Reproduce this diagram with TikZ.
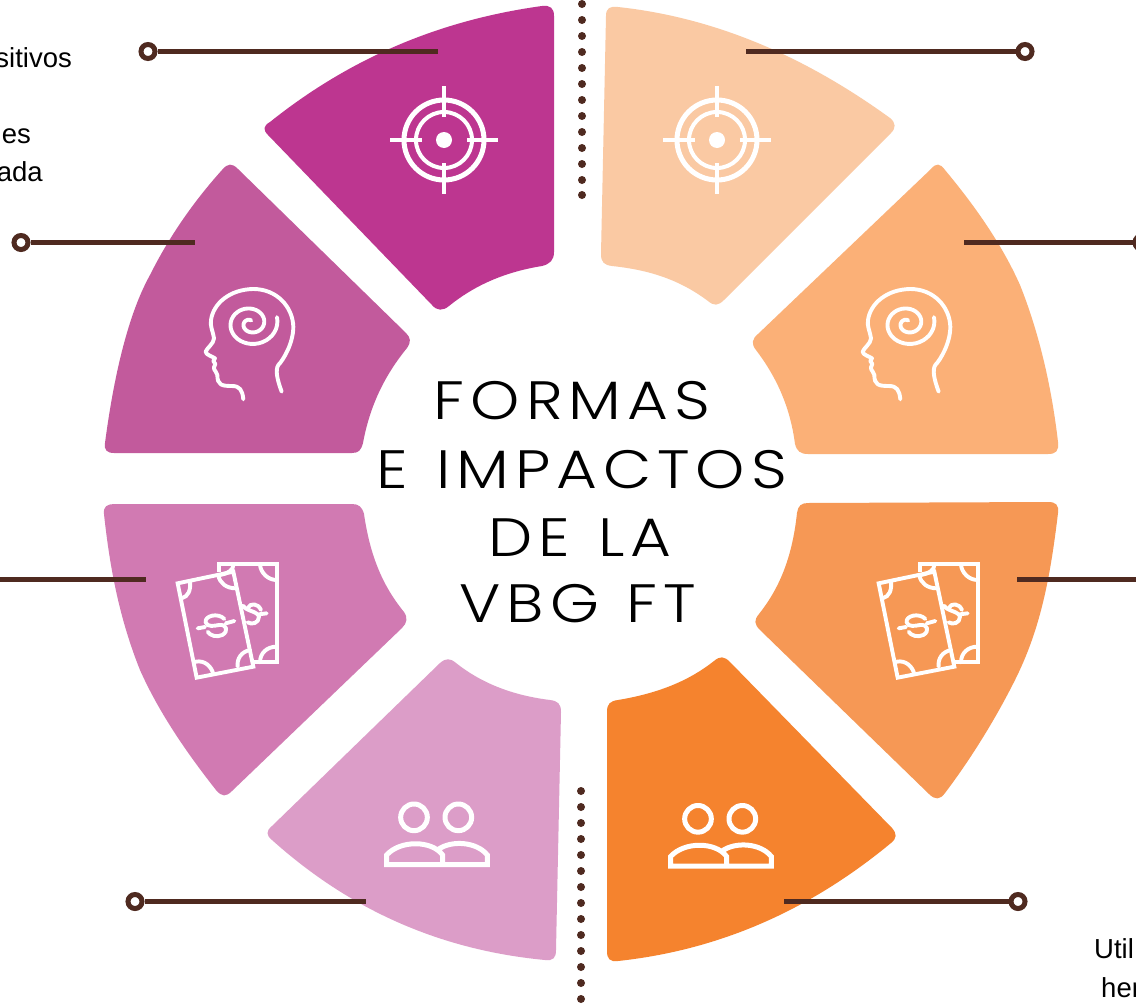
\documentclass[tikz,border=0pt]{standalone}
\usepackage{fontspec}
\setmainfont{Liberation Sans}
\newfontfamily\titlefont[LetterSpace=11,FakeStretch=1.16,WordSpace=1.2,UprightFont=* Light]{Poppins}
\definecolor{mA}{HTML}{BD3690}
\definecolor{mB}{HTML}{C25A9C}
\definecolor{mC}{HTML}{D17AB2}
\definecolor{mD}{HTML}{DC9DC8}
\definecolor{oA}{HTML}{FAC9A3}
\definecolor{oB}{HTML}{FBB077}
\definecolor{oC}{HTML}{F69855}
\definecolor{oD}{HTML}{F5832E}
\definecolor{brown}{HTML}{4F2A20}
\tikzset{
  petal/.style={fill=#1,draw=none},
  icon/.style={draw=white,line width=3.9pt,line cap=round,line join=round},
  iconrect/.style={draw=white,line width=3.9pt,line join=miter},
  lead/.style={draw=brown,line width=5pt},
  ring/.style={circle,draw=brown,fill=white,line width=5pt,minimum size=14pt,inner sep=0pt},
  beadmark/.style={circle,fill=brown,minimum size=8pt,inner sep=0pt},
  titletext/.style={font=\titlefont\fontsize{54}{60}\selectfont,inner sep=0pt,text=black},
  sidetext/.style={font=\fontsize{27.5}{30}\selectfont,inner sep=0pt,text=black,anchor=base east},
  sidetextw/.style={font=\fontsize{27.5}{30}\selectfont,inner sep=0pt,text=black,anchor=base west},
  pics/target/.style={code={
    \draw[icon,line cap=butt,line width=5pt] (0,0) circle (40);
    \draw[icon,line cap=butt,line width=4pt] (0,0) circle (28);
    \fill[white] (0,0) circle (8);
    \draw[icon,line cap=butt] (-54,0)--(-22,0) (23,0)--(54,0) (0,-54)--(0,-23) (0,23)--(0,54);
  }},
  pics/head/.style={code={
    \begin{scope}[x=0.3333pt,y=-0.3333pt]
    \draw[icon] (160,358) .. controls (157,330) and (150,318) .. (125,318) .. controls (95,318) and (82,315) .. (82,285) .. controls (82,275) and (70,272) .. (72,262) -- (76,252) -- (70,243) -- (75,235) .. controls (65,228) and (48,225) .. (47,215) .. controls (50,205) and (72,190) .. (72,175) .. controls (68,150) and (60,140) .. (63,120) .. controls (70,70) and (120,28) .. (190,27) .. controls (260,27) and (308,80) .. (310,140) .. controls (310,190) and (280,240) .. (265,255) .. controls (255,270) and (262,300) .. (275,335);
    \draw[icon] plot[domain=-15:640,samples=70,smooth] ({182+(80-.11*\x)*cos(\x)},{130+.88*(80-.11*\x)*sin(\x)});
    \end{scope}
  }},
  pics/money/.style={code={
    \begin{scope}[x=0.3333pt,y=-0.3333pt]
    \draw[iconrect] (162,52)--(162,28)--(335,28)--(335,322)--(262,322);
    \draw[iconrect] (38,85)--(205,50)--(265,335)--(95,368)--cycle;
    \draw[icon] (75,78) .. controls (78,105) and (70,125) .. (50,130);
    \draw[icon] (160,62) .. controls (165,85) and (185,100) .. (212,100);
    \draw[icon] (255,285) .. controls (230,290) and (215,310) .. (218,335);
    \draw[icon] (92,320) .. controls (120,315) and (140,335) .. (145,358);
    \draw[icon] (285,30) .. controls (288,55) and (310,75) .. (335,75);
    \draw[icon] (335,275) .. controls (305,275) and (285,295) .. (285,322);
    \draw[icon] (205,30) .. controls (205,45) and (190,55) .. (165,60);
    \draw[icon] (98,220)--(120,216) (182,205)--(208,198);
    \draw[icon] (178,192) .. controls (160,172) and (118,182) .. (122,202) .. controls (126,218) and (150,212) .. (162,210) .. controls (185,207) and (192,228) .. (172,240) .. controls (155,248) and (135,242) .. (128,230);
    \draw[icon] (282,178)--(305,175);
    \draw[icon] (288,165) .. controls (280,145) and (255,142) .. (248,160);
    \draw[icon] (235,152) .. controls (240,168) and (278,168) .. (282,185) .. controls (282,205) and (260,210) .. (248,202);
    \end{scope}
  }},
  pics/people/.style={code={
    \begin{scope}[x=0.3333pt,y=-0.3333pt]
    \draw[icon,line width=5pt] (132,82) circle (40) (265,82) circle (40);
    \draw[icon,line width=5pt,line cap=butt,line join=miter] (218,224)--(50,224)--(50,195) .. controls (90,150) and (185,150) .. (218,195)--(218,224)--(352,224)--(352,195) .. controls (320,155) and (245,150) .. (205,178);
    \end{scope}
  }}
}
\begin{document}
\begin{tikzpicture}[x=1pt,y=-1pt]
\clip (0,0) rectangle (1136,1004);
\fill[white] (0,0) rectangle (1136,1004);
% left petals
\fill[petal=mA] (554,16)--(554,252) .. controls (554,260) and (550,264) .. (542,266) .. controls (505,272) and (475,285) .. (449,306) .. controls (443,311) and (437,311) .. (432,305)--(268,135) .. controls (263,130) and (263,126) .. (270,122) .. controls (350,58) and (440,20) .. (542,6) .. controls (550,5) and (554,8) .. (554,16)--cycle;
\fill[petal=mB] (222,170) .. controls (228,163) and (232,163) .. (238,169)--(406,333) .. controls (411,338) and (411,342) .. (407,348) .. controls (385,375) and (370,405) .. (363,443) .. controls (361,450) and (359,453) .. (352,453)--(114,453) .. controls (107,453) and (104,450) .. (105,443) .. controls (112,390) and (125,320) .. (150,275) .. controls (170,235) and (195,200) .. (222,170)--cycle;
\fill[petal=mC] (114,504)--(352,504) .. controls (359,504) and (362,507) .. (364,514) .. controls (370,555) and (382,585) .. (404,612) .. controls (408,618) and (407,623) .. (402,628)--(232,791) .. controls (226,797) and (222,797) .. (216,790) .. controls (190,757) and (160,715) .. (140,670) .. controls (120,620) and (110,570) .. (104,514) .. controls (103,507) and (107,504) .. (114,504)--cycle;
\fill[petal=mD] (440,663) .. controls (446,658) and (450,658) .. (456,663) .. controls (480,682) and (510,695) .. (550,700) .. controls (558,701) and (561,704) .. (561,712)--(556,950) .. controls (556,958) and (553,961) .. (545,960) .. controls (440,950) and (350,910) .. (272,840) .. controls (266,835) and (266,831) .. (272,826)--cycle;
% right petals
\fill[petal=oA] (606,16) .. controls (606,8) and (610,6) .. (618,7) .. controls (720,18) and (810,60) .. (890,118) .. controls (896,123) and (896,128) .. (891,133)--(724,300) .. controls (718,306) and (714,306) .. (708,301) .. controls (680,280) and (650,270) .. (612,266) .. controls (604,265) and (601,262) .. (601,254)--cycle;
\fill[petal=oB] (931,169) .. controls (936,163) and (940,163) .. (945,170) .. controls (970,200) and (1000,240) .. (1020,285) .. controls (1040,335) and (1052,390) .. (1058,442) .. controls (1059,451) and (1056,454) .. (1048,454)--(808,454) .. controls (800,454) and (797,451) .. (795,444) .. controls (790,405) and (775,375) .. (756,350) .. controls (751,344) and (752,339) .. (758,334)--cycle;
\fill[petal=oC] (808,503)--(1048,502) .. controls (1056,502) and (1059,505) .. (1058,513) .. controls (1050,580) and (1040,630) .. (1015,680) .. controls (995,720) and (970,760) .. (945,793) .. controls (940,800) and (935,800) .. (929,794)--(760,630) .. controls (754,624) and (754,620) .. (759,614) .. controls (778,590) and (792,560) .. (797,513) .. controls (798,506) and (801,503) .. (808,503)--cycle;
\fill[petal=oD] (714,661) .. controls (720,656) and (724,656) .. (730,662)--(892,828) .. controls (897,834) and (897,838) .. (891,843) .. controls (810,910) and (720,950) .. (618,961) .. controls (610,962) and (607,959) .. (607,951)--(607,712) .. controls (607,704) and (610,701) .. (618,700) .. controls (660,693) and (690,680) .. (714,661)--cycle;
% icons
\pic at (444,140) {target};
\pic at (717,140) {target};
\pic at (190,280) {head};
\pic at (847,280) {head};
\pic at (165,555) {money};
\pic at (866,555) {money};
\pic at (370,790) {people};
\pic at (654,791.5) {people};
% dotted columns
\foreach \y [count=\i] in {4,20,36,52,68,84,100,116,132,148,164,180,195}
  \node[beadmark] (up\i) at (582,\y) {};
\foreach \y [count=\i] in {791,807,823,839,855,871,887,903,919,935,951,967,983,999}
  \node[beadmark] (dn\i) at (581,\y) {};
% connectors
\node[ring] (r1) at (148,51.5) {};
\coordinate (e1) at (438,51.5);
\draw[lead] (r1)--(e1);
\node[ring] (r2) at (21,242.5) {};
\coordinate (e2) at (195,242.5);
\draw[lead] (r2)--(e2);
\coordinate (r3) at (-4,579.5);
\coordinate (e3) at (146,579.5);
\draw[lead] (r3)--(e3);
\node[ring] (r4) at (135,901.5) {};
\coordinate (e4) at (366,901.5);
\draw[lead] (r4)--(e4);
\node[ring] (r5) at (1025,51.5) {};
\coordinate (e5) at (746,51.5);
\draw[lead] (r5)--(e5);
\node[ring] (r6) at (1142,242.5) {};
\coordinate (e6) at (964,242.5);
\draw[lead] (r6)--(e6);
\coordinate (r7) at (1140,579.5);
\coordinate (e7) at (1017,579.5);
\draw[lead] (r7)--(e7);
\node[ring] (r8) at (1018,901.5) {};
\coordinate (e8) at (784,901.5);
\draw[lead] (r8)--(e8);
% title
\node[titletext] (t1) at (572,401) {FORMAS};
\node[titletext] (t2) at (582,470) {E IMPACTOS};
\node[titletext] (t3) at (580,538) {DE LA};
\node[titletext] (t4) at (578,604) {VBG FT};
% side texts
\node[sidetext] (s1) at (72,67) {sitivos};
\node[sidetext] (s2) at (31,143) {es};
\node[sidetext] (s3) at (43,181) {ada};
\node[sidetextw] (s4) at (1094,958) {Util};
\node[sidetextw] (s5) at (1101,997) {her};
\end{tikzpicture}
\end{document}
